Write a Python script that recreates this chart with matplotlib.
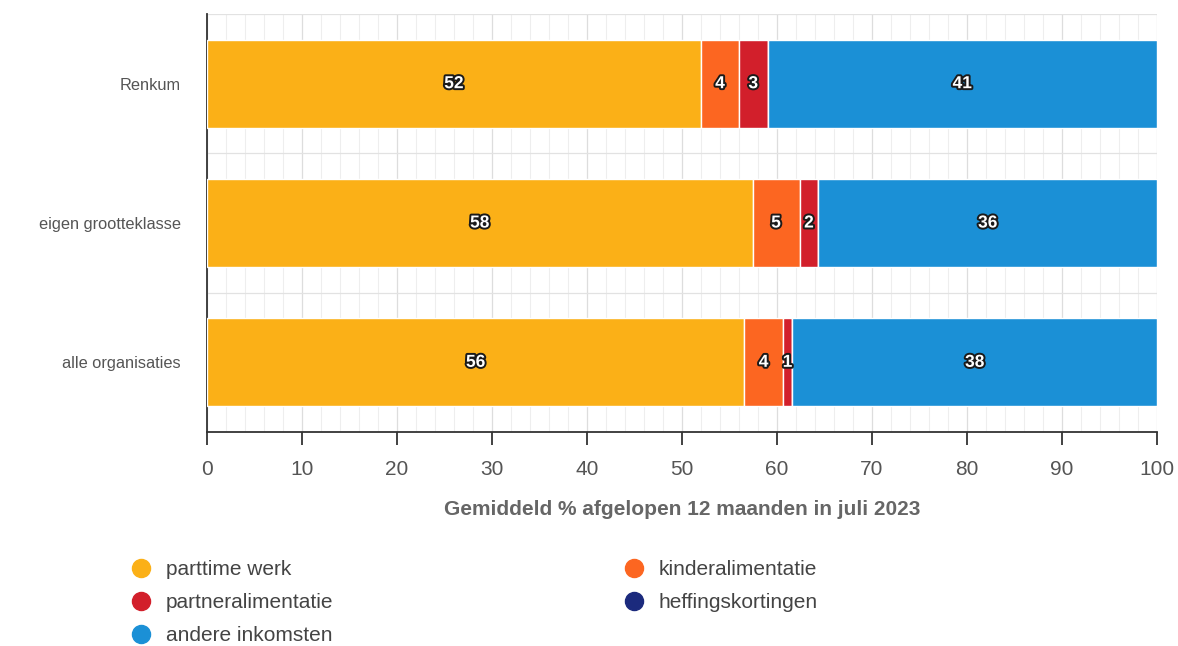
import matplotlib
matplotlib.use("Agg")
import matplotlib.pyplot as plt
import matplotlib.patheffects as pe
from matplotlib.lines import Line2D
import numpy as np

plt.rcParams['font.family'] = ['Liberation Sans', 'DejaVu Sans']

categories = ['Renkum', 'eigen grootteklasse', 'alle organisaties']
series = ['parttime werk', 'kinderalimentatie', 'partneralimentatie',
          'heffingskortingen', 'andere inkomsten']
parttime = [52, 58, 56]
kinder = [4, 5, 4]
partner = [3, 2, 1]
heffing = [0, 0, 0]
andere = [41, 36, 38]
colors = ['#fbb017', '#fc6621', '#d21f2b', '#1b2a7d', '#1b90d6']

# percent stacking: each bar is scaled to 100
data = np.array([parttime, kinder, partner, heffing, andere], dtype=float)
totals = data.sum(axis=0)
pct = data / totals * 100

fig = plt.figure(figsize=(11.78, 6.46), dpi=100)
ax = fig.add_axes([0.1757, 0.3313, 0.8065, 0.647])

ypos = np.arange(len(categories))
left = np.zeros(len(categories))
for i, name in enumerate(series):
    ax.barh(ypos, pct[i], left=left, height=0.63, color=colors[i],
            edgecolor='white', linewidth=1, zorder=3, label=name)
    for j in range(len(categories)):
        if data[i, j] > 0:
            ax.text(left[j] + pct[i, j] / 2, ypos[j], '%d' % data[i, j],
                    ha='center', va='center', color='white', fontsize=12.5,
                    fontweight='bold', zorder=5,
                    path_effects=[pe.withStroke(linewidth=2.8, foreground='#1a1a1a')])
    left += pct[i]

ax.set_xlim(0, 100)
ax.set_ylim(2.5, -0.5)
ax.set_yticks(ypos)
ax.set_yticklabels(categories, fontsize=11.8, color='#555555')
ax.tick_params(axis='y', which='both', length=0, pad=19)
ax.set_xticks(np.arange(0, 101, 10))
ax.set_xticks(np.arange(0, 101, 2), minor=True)
ax.tick_params(axis='x', which='major', length=9, width=1.3, color='#333333',
               labelsize=15, labelcolor='#555555', pad=11)
ax.tick_params(axis='x', which='minor', length=0)
ax.set_yticks([-0.5, 0.5, 1.5, 2.5], minor=True)
ax.grid(axis='x', which='major', color='#dddddd', linewidth=0.9, zorder=0)
ax.grid(axis='x', which='minor', color='#eeeeee', linewidth=0.8, zorder=0)
ax.grid(axis='y', which='minor', color='#e2e2e2', linewidth=0.9, zorder=0)
ax.grid(axis='y', which='major', visible=False)

for s in ['top', 'right']:
    ax.spines[s].set_visible(False)
ax.spines['left'].set_color('#333333')
ax.spines['left'].set_linewidth(1.3)
ax.spines['bottom'].set_color('#333333')
ax.spines['bottom'].set_linewidth(1.3)

ax.set_xlabel('Gemiddeld % afgelopen 12 maanden in juli 2023', fontsize=15,
              fontweight='bold', color='#666666', labelpad=15)

order = [0, 2, 4, 1, 3]
handles = [Line2D([], [], marker='o', linestyle='', markersize=13,
                  markerfacecolor=colors[k], markeredgecolor=colors[k]) for k in order]
labels = [series[k] for k in order]
fig.legend(handles, labels, ncol=2, loc='upper left', bbox_to_anchor=(0.095, 0.146),
           frameon=False, fontsize=15, labelcolor='#444444', handletextpad=0.2,
           columnspacing=13.4, labelspacing=0.68, borderaxespad=0)

fig.savefig('out.png', dpi=100)
